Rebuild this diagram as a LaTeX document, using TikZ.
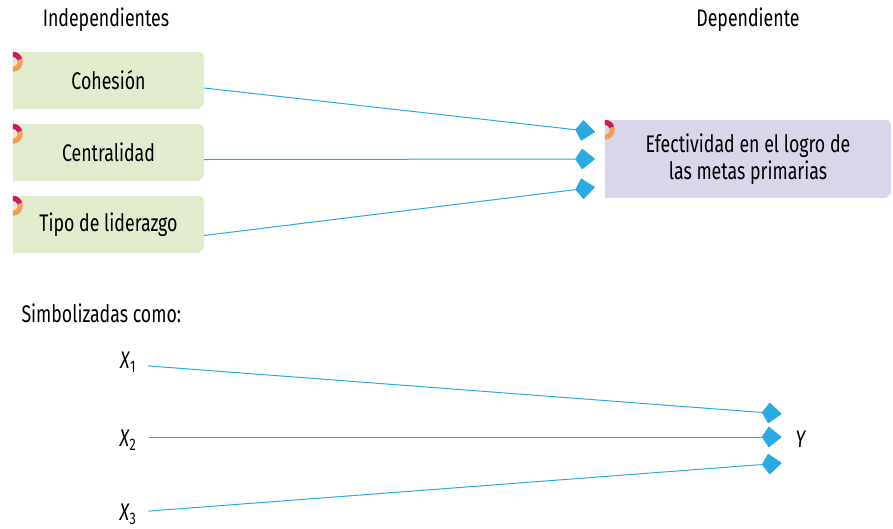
\documentclass[tikz,border=0pt]{standalone}
\usepackage{fontspec}
\setmainfont[FakeStretch=0.74]{Fira Sans}
\usetikzlibrary{arrows.meta,backgrounds}

\definecolor{boxgreen}{RGB}{225,236,207}
\definecolor{boxpurple}{RGB}{217,214,234}
\definecolor{linkblue}{RGB}{41,171,226}
\definecolor{ringred}{RGB}{200,30,90}
\definecolor{ringorange}{RGB}{246,156,90}

\begin{document}
\begin{tikzpicture}[x=1pt,y=-1pt,
    font=\fontsize{24}{27}\selectfont,
    indep/.style={minimum width=191pt,minimum height=57pt,inner sep=0pt},
    dep/.style={minimum width=286pt,minimum height=78pt,inner sep=0pt,align=center},
    sym/.style={inner sep=0pt},
    link/.style={draw=linkblue,line width=1pt,-{Kite[length=20pt,width=21pt,inset=7pt,round]}}]

\useasboundingbox (0,0) rectangle (893,528);

% Titulos
\node (indtit) at (106,20) {Independientes};
\node (deptit) at (748,20) {Dependiente};

% Variables independientes y dependiente
\node[indep] (coh) at (108.5,80.5) {Cohesión};
\node[indep] (cen) at (108.5,152.5) {Centralidad};
\node[indep] (tip) at (108.5,224.5) {Tipo de liderazgo};
\node[dep] (eff) at (748,159) {Efectividad en el logro de\\las metas primarias};

\begin{scope}[on background layer]
\foreach \n/\c in {coh/boxgreen,cen/boxgreen,tip/boxgreen,eff/boxpurple}
    \fill[\c] (\n.south west) -- (\n.north west) -- ([xshift=-6pt]\n.north east)
        arc[start angle=90,end angle=0,radius=6pt] -- ([yshift=5pt]\n.south east)
        -- ([xshift=-5pt]\n.south east) -- cycle;
\end{scope}

% Anillos en la esquina
\foreach \n in {coh,cen,tip,eff} {
    \fill[ringorange] ([yshift=-10pt]\n.north west) ++(-90:10pt)
        arc[start angle=-90,end angle=90,radius=10pt] -- ++(0,-5pt)
        arc[start angle=90,end angle=-90,radius=5pt] -- cycle;
    \fill[ringred] ([yshift=-10pt]\n.north west) ++(90:10pt)
        arc[start angle=90,end angle=20,radius=10pt] -- ++(200:5pt)
        arc[start angle=20,end angle=90,radius=5pt] -- cycle;
}

\draw[link,shorten >=10pt] ([yshift=-7.5pt]coh.east) -- ([yshift=26pt]eff.west);
\draw[link,shorten >=10pt] ([yshift=-7pt]cen.east) -- (eff.west);
\draw[link,shorten >=10pt] ([yshift=-11pt]tip.east) -- ([yshift=-27pt]eff.west);

% Simbolos
\node[anchor=west] (simb) at (18,313) {Simbolizadas como:};
\node[sym] (x1) at (128,362) {\textit{X}\textsubscript{1}};
\node[sym] (x2) at (128,440) {\textit{X}\textsubscript{2}};
\node[sym] (x3) at (128,514) {\textit{X}\textsubscript{3}};
\node[sym] (ysym) at (801,439) {\textit{Y}};

\draw[link,shorten <=12pt,shorten >=14pt] ([yshift=-3pt]x1.east) -- ([yshift=24pt]ysym.west);
\draw[link,shorten <=12pt,shorten >=14pt] ([yshift=3pt]x2.east) -- ([yshift=2pt]ysym.west);
\draw[link,shorten <=12pt,shorten >=14pt] ([yshift=2pt]x3.east) -- ([yshift=-23pt]ysym.west);

\end{tikzpicture}
\end{document}
